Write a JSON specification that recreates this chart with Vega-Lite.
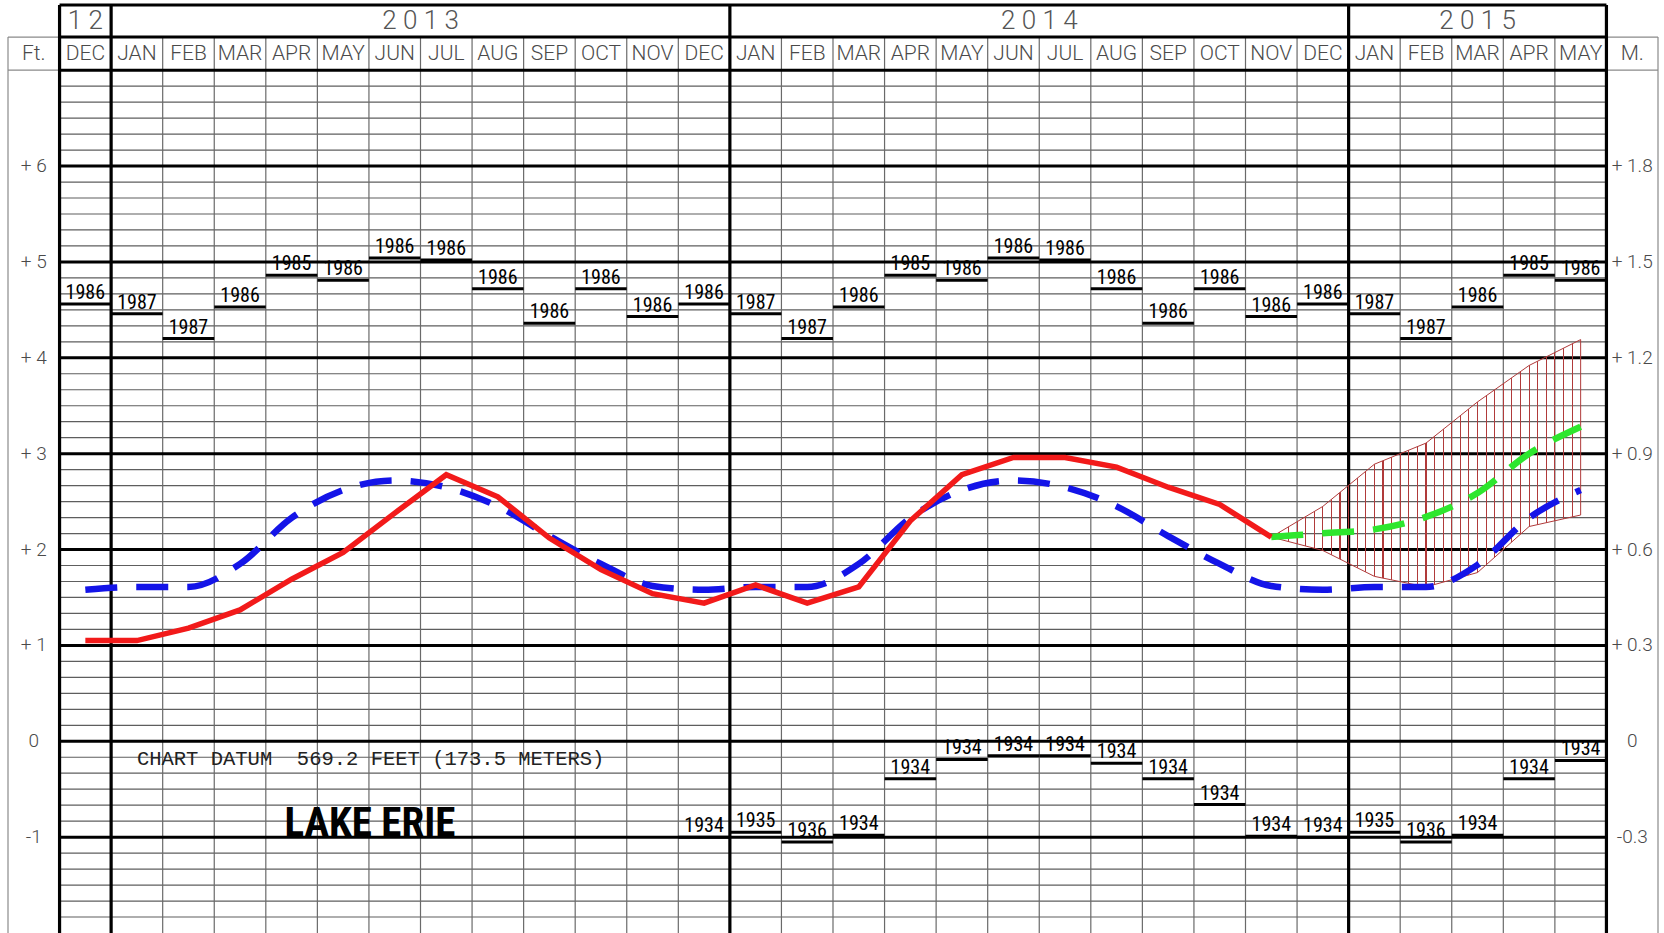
{
  "$schema": "https://vega.github.io/schema/vega-lite/v6.json",
  "width": 1650,
  "height": 928,
  "autosize": {"type": "none"},
  "padding": {"left": 8, "top": 5, "right": 6, "bottom": 0},
  "background": "white",
  "config": {"view": {"stroke": null}, "axis": {"disable": true}, "legend": {"disable": true}},
  "datasets": {
    "hminor": [{"v": -1.8333}, {"v": -1.6667}, {"v": -1.5}, {"v": -1.3333}, {"v": -1.1667},
      {"v": -0.8333}, {"v": -0.6667}, {"v": -0.5}, {"v": -0.3333}, {"v": -0.1667},
      {"v": 0.1667}, {"v": 0.3333}, {"v": 0.5}, {"v": 0.6667}, {"v": 0.8333},
      {"v": 1.1667}, {"v": 1.3333}, {"v": 1.5}, {"v": 1.6667}, {"v": 1.8333},
      {"v": 2.1667}, {"v": 2.3333}, {"v": 2.5}, {"v": 2.6667}, {"v": 2.8333},
      {"v": 3.1667}, {"v": 3.3333}, {"v": 3.5}, {"v": 3.6667}, {"v": 3.8333},
      {"v": 4.1667}, {"v": 4.3333}, {"v": 4.5}, {"v": 4.6667}, {"v": 4.8333},
      {"v": 5.1667}, {"v": 5.3333}, {"v": 5.5}, {"v": 5.6667}, {"v": 5.8333},
      {"v": 6.1667}, {"v": 6.3333}, {"v": 6.5}, {"v": 6.6667}, {"v": 6.8333}],
    "hmajor": [{"v": -1}, {"v": 0}, {"v": 1}, {"v": 2}, {"v": 3}, {"v": 4}, {"v": 5}, {"v": 6}, {"v": 7}, {"v": 7.345}, {"v": 7.68}],
    "vthin": [{"v": 1.5}, {"v": 2.5}, {"v": 3.5}, {"v": 4.5}, {"v": 5.5}, {"v": 6.5}, {"v": 7.5}, {"v": 8.5}, {"v": 9.5}, {"v": 10.5}, {"v": 11.5},
      {"v": 13.5}, {"v": 14.5}, {"v": 15.5}, {"v": 16.5}, {"v": 17.5}, {"v": 18.5}, {"v": 19.5}, {"v": 20.5}, {"v": 21.5}, {"v": 22.5}, {"v": 23.5},
      {"v": 25.5}, {"v": 26.5}, {"v": 27.5}, {"v": 28.5}],
    "vthick": [{"v": -0.5}, {"v": 0.5}, {"v": 12.5}, {"v": 24.5}, {"v": 29.5}],
    "vedge": [{"v": -1.5}, {"v": 30.5}],
    "hcell": [{"v": 7}, {"v": 7.345}],
    "months": [
      {"n": 0, "mon": "DEC", "yr": "1 2"},
      {"n": 1, "mon": "JAN", "yr": "2 0 1 3"}, {"n": 2, "mon": "FEB", "yr": "2 0 1 3"}, {"n": 3, "mon": "MAR", "yr": "2 0 1 3"},
      {"n": 4, "mon": "APR", "yr": "2 0 1 3"}, {"n": 5, "mon": "MAY", "yr": "2 0 1 3"}, {"n": 6, "mon": "JUN", "yr": "2 0 1 3"},
      {"n": 7, "mon": "JUL", "yr": "2 0 1 3"}, {"n": 8, "mon": "AUG", "yr": "2 0 1 3"}, {"n": 9, "mon": "SEP", "yr": "2 0 1 3"},
      {"n": 10, "mon": "OCT", "yr": "2 0 1 3"}, {"n": 11, "mon": "NOV", "yr": "2 0 1 3"}, {"n": 12, "mon": "DEC", "yr": "2 0 1 3"},
      {"n": 13, "mon": "JAN", "yr": "2 0 1 4"}, {"n": 14, "mon": "FEB", "yr": "2 0 1 4"}, {"n": 15, "mon": "MAR", "yr": "2 0 1 4"},
      {"n": 16, "mon": "APR", "yr": "2 0 1 4"}, {"n": 17, "mon": "MAY", "yr": "2 0 1 4"}, {"n": 18, "mon": "JUN", "yr": "2 0 1 4"},
      {"n": 19, "mon": "JUL", "yr": "2 0 1 4"}, {"n": 20, "mon": "AUG", "yr": "2 0 1 4"}, {"n": 21, "mon": "SEP", "yr": "2 0 1 4"},
      {"n": 22, "mon": "OCT", "yr": "2 0 1 4"}, {"n": 23, "mon": "NOV", "yr": "2 0 1 4"}, {"n": 24, "mon": "DEC", "yr": "2 0 1 4"},
      {"n": 25, "mon": "JAN", "yr": "2 0 1 5"}, {"n": 26, "mon": "FEB", "yr": "2 0 1 5"}, {"n": 27, "mon": "MAR", "yr": "2 0 1 5"},
      {"n": 28, "mon": "APR", "yr": "2 0 1 5"}, {"n": 29, "mon": "MAY", "yr": "2 0 1 5"}
    ],
    "units": [{"n": -1, "lab": "Ft."}, {"n": 30, "lab": "M."}],
    "scale": [
      {"ft": 6, "feet": "+ 6", "meters": "+ 1.8"}, {"ft": 5, "feet": "+ 5", "meters": "+ 1.5"},
      {"ft": 4, "feet": "+ 4", "meters": "+ 1.2"}, {"ft": 3, "feet": "+ 3", "meters": "+ 0.9"},
      {"ft": 2, "feet": "+ 2", "meters": "+ 0.6"}, {"ft": 1, "feet": "+ 1", "meters": "+ 0.3"},
      {"ft": 0, "feet": "0", "meters": "0"}, {"ft": -1, "feet": "-1", "meters": "-0.3"}
    ],
    "highs": [
      {"n": 0, "v": 4.56, "y": "1986"},
      {"n": 1, "v": 4.46, "y": "1987"}, {"n": 2, "v": 4.20, "y": "1987"}, {"n": 3, "v": 4.53, "y": "1986"},
      {"n": 4, "v": 4.86, "y": "1985"}, {"n": 5, "v": 4.81, "y": "1986"}, {"n": 6, "v": 5.04, "y": "1986"},
      {"n": 7, "v": 5.02, "y": "1986"}, {"n": 8, "v": 4.72, "y": "1986"}, {"n": 9, "v": 4.36, "y": "1986"},
      {"n": 10, "v": 4.72, "y": "1986"}, {"n": 11, "v": 4.43, "y": "1986"}, {"n": 12, "v": 4.56, "y": "1986"},
      {"n": 13, "v": 4.46, "y": "1987"}, {"n": 14, "v": 4.20, "y": "1987"}, {"n": 15, "v": 4.53, "y": "1986"},
      {"n": 16, "v": 4.86, "y": "1985"}, {"n": 17, "v": 4.81, "y": "1986"}, {"n": 18, "v": 5.04, "y": "1986"},
      {"n": 19, "v": 5.02, "y": "1986"}, {"n": 20, "v": 4.72, "y": "1986"}, {"n": 21, "v": 4.36, "y": "1986"},
      {"n": 22, "v": 4.72, "y": "1986"}, {"n": 23, "v": 4.43, "y": "1986"}, {"n": 24, "v": 4.56, "y": "1986"},
      {"n": 25, "v": 4.46, "y": "1987"}, {"n": 26, "v": 4.20, "y": "1987"}, {"n": 27, "v": 4.53, "y": "1986"},
      {"n": 28, "v": 4.86, "y": "1985"}, {"n": 29, "v": 4.81, "y": "1986"}
    ],
    "lows": [
      {"n": 12, "v": -1.00, "y": "1934"},
      {"n": 13, "v": -0.95, "y": "1935"}, {"n": 14, "v": -1.05, "y": "1936"}, {"n": 15, "v": -0.98, "y": "1934"},
      {"n": 16, "v": -0.39, "y": "1934"}, {"n": 17, "v": -0.19, "y": "1934"}, {"n": 18, "v": -0.15, "y": "1934"},
      {"n": 19, "v": -0.15, "y": "1934"}, {"n": 20, "v": -0.23, "y": "1934"}, {"n": 21, "v": -0.39, "y": "1934"},
      {"n": 22, "v": -0.66, "y": "1934"}, {"n": 23, "v": -0.99, "y": "1934"}, {"n": 24, "v": -1.00, "y": "1934"},
      {"n": 25, "v": -0.95, "y": "1935"}, {"n": 26, "v": -1.05, "y": "1936"}, {"n": 27, "v": -0.98, "y": "1934"},
      {"n": 28, "v": -0.39, "y": "1934"}, {"n": 29, "v": -0.20, "y": "1934"}
    ],
    "recorded": [
      {"n": 0, "v": 1.05}, {"n": 1, "v": 1.05}, {"n": 2, "v": 1.18}, {"n": 3, "v": 1.37}, {"n": 4, "v": 1.69},
      {"n": 5, "v": 1.97}, {"n": 6, "v": 2.38}, {"n": 7, "v": 2.78}, {"n": 8, "v": 2.55}, {"n": 9, "v": 2.12},
      {"n": 10, "v": 1.79}, {"n": 11, "v": 1.54}, {"n": 12, "v": 1.44}, {"n": 13, "v": 1.63}, {"n": 14, "v": 1.44},
      {"n": 15, "v": 1.61}, {"n": 16, "v": 2.30}, {"n": 17, "v": 2.78}, {"n": 18, "v": 2.96}, {"n": 19, "v": 2.96},
      {"n": 20, "v": 2.86}, {"n": 21, "v": 2.65}, {"n": 22, "v": 2.47}, {"n": 23, "v": 2.13}
    ],
    "average": [
      {"n": 0, "v": 1.58}, {"n": 1, "v": 1.61}, {"n": 2, "v": 1.61}, {"n": 3, "v": 1.85}, {"n": 4, "v": 2.33},
      {"n": 5, "v": 2.62}, {"n": 6, "v": 2.72}, {"n": 7, "v": 2.65}, {"n": 8, "v": 2.45}, {"n": 9, "v": 2.14},
      {"n": 10, "v": 1.85}, {"n": 11, "v": 1.62}, {"n": 12, "v": 1.58}, {"n": 13, "v": 1.61}, {"n": 14, "v": 1.61},
      {"n": 15, "v": 1.85}, {"n": 16, "v": 2.33}, {"n": 17, "v": 2.62}, {"n": 18, "v": 2.72}, {"n": 19, "v": 2.65},
      {"n": 20, "v": 2.45}, {"n": 21, "v": 2.14}, {"n": 22, "v": 1.85}, {"n": 23, "v": 1.62}, {"n": 24, "v": 1.58},
      {"n": 25, "v": 1.61}, {"n": 26, "v": 1.61}, {"n": 27, "v": 1.84}, {"n": 28, "v": 2.33}, {"n": 29, "v": 2.62}
    ],
    "forecast": [
      {"n": 23, "v": 2.13, "lo": 2.13, "hi": 2.13}, {"n": 24, "v": 2.17, "lo": 1.99, "hi": 2.45},
      {"n": 25, "v": 2.21, "lo": 1.72, "hi": 2.89}, {"n": 26, "v": 2.34, "lo": 1.61, "hi": 3.11},
      {"n": 27, "v": 2.59, "lo": 1.76, "hi": 3.54}, {"n": 28, "v": 3.00, "lo": 2.24, "hi": 3.92},
      {"n": 29, "v": 3.28, "lo": 2.36, "hi": 4.19}
    ],
    "notes": [{"label": "CHART DATUM \u00a0569.2 FEET (173.5 METERS)"}],
    "title": [{"label": "LAKE ERIE"}]
  },
  "layer": [
    {
      "data": {"name": "hminor"},
      "mark": {"type": "rule", "color": "#5e5e5e", "strokeWidth": 1.2},
      "encoding": {
        "y": {"field": "v", "type": "quantitative", "scale": {"domain": [-2, 7.68], "nice": false, "zero": false}},
        "x": {"datum": -0.5, "type": "quantitative", "scale": {"domain": [-1.5, 30.5], "nice": false, "zero": false}},
        "x2": {"datum": 29.5}
      }
    },
    {
      "data": {"name": "vthin"},
      "mark": {"type": "rule", "color": "#6a6a6a", "strokeWidth": 1.2},
      "encoding": {
        "x": {"field": "v", "type": "quantitative"},
        "y": {"datum": -2, "type": "quantitative"},
        "y2": {"datum": 7.345}
      }
    },
    {
      "data": {"name": "vedge"},
      "mark": {"type": "rule", "color": "#8a8a8a", "strokeWidth": 1.2},
      "encoding": {
        "x": {"field": "v", "type": "quantitative"},
        "y": {"datum": -2, "type": "quantitative"},
        "y2": {"datum": 7.345}
      }
    },
    {
      "data": {"name": "hcell"},
      "mark": {"type": "rule", "color": "#8a8a8a", "strokeWidth": 1.2},
      "encoding": {
        "y": {"field": "v", "type": "quantitative"},
        "x": {"datum": -1.5, "type": "quantitative"},
        "x2": {"datum": -0.5}
      }
    },
    {
      "data": {"name": "hcell"},
      "mark": {"type": "rule", "color": "#8a8a8a", "strokeWidth": 1.2},
      "encoding": {
        "y": {"field": "v", "type": "quantitative"},
        "x": {"datum": 29.5, "type": "quantitative"},
        "x2": {"datum": 30.5}
      }
    },
    {
      "data": {"name": "hmajor"},
      "mark": {"type": "rule", "color": "#000000", "strokeWidth": 3},
      "encoding": {
        "y": {"field": "v", "type": "quantitative"},
        "x": {"datum": -0.5, "type": "quantitative"},
        "x2": {"datum": 29.5}
      }
    },
    {
      "data": {"name": "vthick"},
      "mark": {"type": "rule", "color": "#000000", "strokeWidth": 3.2},
      "encoding": {
        "x": {"field": "v", "type": "quantitative"},
        "y": {"datum": -2, "type": "quantitative"},
        "y2": {"datum": 7.68}
      }
    },
    {
      "data": {"name": "forecast"},
      "mark": {
        "type": "area",
        "stroke": "#b03a3a",
        "strokeWidth": 1,
        "fill": {
          "gradient": "linear", "x1": 0, "y1": 0, "x2": 1, "y2": 0,
          "stops": [
            {"offset": 0, "color": "rgba(255,255,255,0)"},
            {"offset": 0.02598, "color": "rgba(255,255,255,0)"}, {"offset": 0.02598, "color": "#b03a3a"}, {"offset": 0.02958, "color": "#b03a3a"}, {"offset": 0.02958, "color": "rgba(255,255,255,0)"},
            {"offset": 0.05376, "color": "rgba(255,255,255,0)"}, {"offset": 0.05376, "color": "#b03a3a"}, {"offset": 0.05736, "color": "#b03a3a"}, {"offset": 0.05736, "color": "rgba(255,255,255,0)"},
            {"offset": 0.08153, "color": "rgba(255,255,255,0)"}, {"offset": 0.08153, "color": "#b03a3a"}, {"offset": 0.08513, "color": "#b03a3a"}, {"offset": 0.08513, "color": "rgba(255,255,255,0)"},
            {"offset": 0.10931, "color": "rgba(255,255,255,0)"}, {"offset": 0.10931, "color": "#b03a3a"}, {"offset": 0.11291, "color": "#b03a3a"}, {"offset": 0.11291, "color": "rgba(255,255,255,0)"},
            {"offset": 0.13709, "color": "rgba(255,255,255,0)"}, {"offset": 0.13709, "color": "#b03a3a"}, {"offset": 0.14069, "color": "#b03a3a"}, {"offset": 0.14069, "color": "rgba(255,255,255,0)"},
            {"offset": 0.16487, "color": "rgba(255,255,255,0)"}, {"offset": 0.16487, "color": "#b03a3a"}, {"offset": 0.16847, "color": "#b03a3a"}, {"offset": 0.16847, "color": "rgba(255,255,255,0)"},
            {"offset": 0.19264, "color": "rgba(255,255,255,0)"}, {"offset": 0.19264, "color": "#b03a3a"}, {"offset": 0.19624, "color": "#b03a3a"}, {"offset": 0.19624, "color": "rgba(255,255,255,0)"},
            {"offset": 0.22042, "color": "rgba(255,255,255,0)"}, {"offset": 0.22042, "color": "#b03a3a"}, {"offset": 0.22402, "color": "#b03a3a"}, {"offset": 0.22402, "color": "rgba(255,255,255,0)"},
            {"offset": 0.2482, "color": "rgba(255,255,255,0)"}, {"offset": 0.2482, "color": "#b03a3a"}, {"offset": 0.2518, "color": "#b03a3a"}, {"offset": 0.2518, "color": "rgba(255,255,255,0)"},
            {"offset": 0.27598, "color": "rgba(255,255,255,0)"}, {"offset": 0.27598, "color": "#b03a3a"}, {"offset": 0.27958, "color": "#b03a3a"}, {"offset": 0.27958, "color": "rgba(255,255,255,0)"},
            {"offset": 0.30376, "color": "rgba(255,255,255,0)"}, {"offset": 0.30376, "color": "#b03a3a"}, {"offset": 0.30736, "color": "#b03a3a"}, {"offset": 0.30736, "color": "rgba(255,255,255,0)"},
            {"offset": 0.33153, "color": "rgba(255,255,255,0)"}, {"offset": 0.33153, "color": "#b03a3a"}, {"offset": 0.33513, "color": "#b03a3a"}, {"offset": 0.33513, "color": "rgba(255,255,255,0)"},
            {"offset": 0.35931, "color": "rgba(255,255,255,0)"}, {"offset": 0.35931, "color": "#b03a3a"}, {"offset": 0.36291, "color": "#b03a3a"}, {"offset": 0.36291, "color": "rgba(255,255,255,0)"},
            {"offset": 0.38709, "color": "rgba(255,255,255,0)"}, {"offset": 0.38709, "color": "#b03a3a"}, {"offset": 0.39069, "color": "#b03a3a"}, {"offset": 0.39069, "color": "rgba(255,255,255,0)"},
            {"offset": 0.41487, "color": "rgba(255,255,255,0)"}, {"offset": 0.41487, "color": "#b03a3a"}, {"offset": 0.41847, "color": "#b03a3a"}, {"offset": 0.41847, "color": "rgba(255,255,255,0)"},
            {"offset": 0.44264, "color": "rgba(255,255,255,0)"}, {"offset": 0.44264, "color": "#b03a3a"}, {"offset": 0.44624, "color": "#b03a3a"}, {"offset": 0.44624, "color": "rgba(255,255,255,0)"},
            {"offset": 0.47042, "color": "rgba(255,255,255,0)"}, {"offset": 0.47042, "color": "#b03a3a"}, {"offset": 0.47402, "color": "#b03a3a"}, {"offset": 0.47402, "color": "rgba(255,255,255,0)"},
            {"offset": 0.4982, "color": "rgba(255,255,255,0)"}, {"offset": 0.4982, "color": "#b03a3a"}, {"offset": 0.5018, "color": "#b03a3a"}, {"offset": 0.5018, "color": "rgba(255,255,255,0)"},
            {"offset": 0.52598, "color": "rgba(255,255,255,0)"}, {"offset": 0.52598, "color": "#b03a3a"}, {"offset": 0.52958, "color": "#b03a3a"}, {"offset": 0.52958, "color": "rgba(255,255,255,0)"},
            {"offset": 0.55376, "color": "rgba(255,255,255,0)"}, {"offset": 0.55376, "color": "#b03a3a"}, {"offset": 0.55736, "color": "#b03a3a"}, {"offset": 0.55736, "color": "rgba(255,255,255,0)"},
            {"offset": 0.58153, "color": "rgba(255,255,255,0)"}, {"offset": 0.58153, "color": "#b03a3a"}, {"offset": 0.58513, "color": "#b03a3a"}, {"offset": 0.58513, "color": "rgba(255,255,255,0)"},
            {"offset": 0.60931, "color": "rgba(255,255,255,0)"}, {"offset": 0.60931, "color": "#b03a3a"}, {"offset": 0.61291, "color": "#b03a3a"}, {"offset": 0.61291, "color": "rgba(255,255,255,0)"},
            {"offset": 0.63709, "color": "rgba(255,255,255,0)"}, {"offset": 0.63709, "color": "#b03a3a"}, {"offset": 0.64069, "color": "#b03a3a"}, {"offset": 0.64069, "color": "rgba(255,255,255,0)"},
            {"offset": 0.66487, "color": "rgba(255,255,255,0)"}, {"offset": 0.66487, "color": "#b03a3a"}, {"offset": 0.66847, "color": "#b03a3a"}, {"offset": 0.66847, "color": "rgba(255,255,255,0)"},
            {"offset": 0.69264, "color": "rgba(255,255,255,0)"}, {"offset": 0.69264, "color": "#b03a3a"}, {"offset": 0.69624, "color": "#b03a3a"}, {"offset": 0.69624, "color": "rgba(255,255,255,0)"},
            {"offset": 0.72042, "color": "rgba(255,255,255,0)"}, {"offset": 0.72042, "color": "#b03a3a"}, {"offset": 0.72402, "color": "#b03a3a"}, {"offset": 0.72402, "color": "rgba(255,255,255,0)"},
            {"offset": 0.7482, "color": "rgba(255,255,255,0)"}, {"offset": 0.7482, "color": "#b03a3a"}, {"offset": 0.7518, "color": "#b03a3a"}, {"offset": 0.7518, "color": "rgba(255,255,255,0)"},
            {"offset": 0.77598, "color": "rgba(255,255,255,0)"}, {"offset": 0.77598, "color": "#b03a3a"}, {"offset": 0.77958, "color": "#b03a3a"}, {"offset": 0.77958, "color": "rgba(255,255,255,0)"},
            {"offset": 0.80376, "color": "rgba(255,255,255,0)"}, {"offset": 0.80376, "color": "#b03a3a"}, {"offset": 0.80736, "color": "#b03a3a"}, {"offset": 0.80736, "color": "rgba(255,255,255,0)"},
            {"offset": 0.83153, "color": "rgba(255,255,255,0)"}, {"offset": 0.83153, "color": "#b03a3a"}, {"offset": 0.83513, "color": "#b03a3a"}, {"offset": 0.83513, "color": "rgba(255,255,255,0)"},
            {"offset": 0.85931, "color": "rgba(255,255,255,0)"}, {"offset": 0.85931, "color": "#b03a3a"}, {"offset": 0.86291, "color": "#b03a3a"}, {"offset": 0.86291, "color": "rgba(255,255,255,0)"},
            {"offset": 0.88709, "color": "rgba(255,255,255,0)"}, {"offset": 0.88709, "color": "#b03a3a"}, {"offset": 0.89069, "color": "#b03a3a"}, {"offset": 0.89069, "color": "rgba(255,255,255,0)"},
            {"offset": 0.91487, "color": "rgba(255,255,255,0)"}, {"offset": 0.91487, "color": "#b03a3a"}, {"offset": 0.91847, "color": "#b03a3a"}, {"offset": 0.91847, "color": "rgba(255,255,255,0)"},
            {"offset": 0.94264, "color": "rgba(255,255,255,0)"}, {"offset": 0.94264, "color": "#b03a3a"}, {"offset": 0.94624, "color": "#b03a3a"}, {"offset": 0.94624, "color": "rgba(255,255,255,0)"},
            {"offset": 0.97042, "color": "rgba(255,255,255,0)"}, {"offset": 0.97042, "color": "#b03a3a"}, {"offset": 0.97402, "color": "#b03a3a"}, {"offset": 0.97402, "color": "rgba(255,255,255,0)"},
            {"offset": 1, "color": "rgba(255,255,255,0)"}
          ]
        }
      },
      "encoding": {
        "x": {"field": "n", "type": "quantitative"},
        "y": {"field": "lo", "type": "quantitative"},
        "y2": {"field": "hi"}
      }
    },
    {
      "data": {"name": "average"},
      "mark": {"type": "line", "color": "#1414e8", "strokeWidth": 6.5, "strokeDash": [32, 19], "interpolate": "monotone"},
      "encoding": {
        "x": {"field": "n", "type": "quantitative"},
        "y": {"field": "v", "type": "quantitative"}
      }
    },
    {
      "data": {"name": "forecast"},
      "mark": {"type": "line", "color": "#2ee62e", "strokeWidth": 6.5, "strokeDash": [32, 19], "interpolate": "monotone"},
      "encoding": {
        "x": {"field": "n", "type": "quantitative"},
        "y": {"field": "v", "type": "quantitative"}
      }
    },
    {
      "data": {"name": "recorded"},
      "mark": {"type": "line", "color": "#f21a1a", "strokeWidth": 5.5},
      "encoding": {
        "x": {"field": "n", "type": "quantitative"},
        "y": {"field": "v", "type": "quantitative"}
      }
    },
    {
      "data": {"name": "highs"},
      "mark": {"type": "tick", "orient": "horizontal", "size": 51.5, "thickness": 3, "color": "#000000", "opacity": 1},
      "encoding": {
        "x": {"field": "n", "type": "quantitative"},
        "y": {"field": "v", "type": "quantitative"}
      }
    },
    {
      "data": {"name": "highs"},
      "mark": {"type": "text", "font": "Roboto Condensed, Liberation Sans Narrow, DejaVu Sans Condensed, Roboto, sans-serif", "fontSize": 20, "color": "#000000", "align": "center", "baseline": "alphabetic", "dy": -5},
      "encoding": {
        "x": {"field": "n", "type": "quantitative"},
        "y": {"field": "v", "type": "quantitative"},
        "text": {"field": "y"}
      }
    },
    {
      "data": {"name": "lows"},
      "mark": {"type": "tick", "orient": "horizontal", "size": 51.5, "thickness": 3, "color": "#000000", "opacity": 1},
      "encoding": {
        "x": {"field": "n", "type": "quantitative"},
        "y": {"field": "v", "type": "quantitative"}
      }
    },
    {
      "data": {"name": "lows"},
      "mark": {"type": "text", "font": "Roboto Condensed, Liberation Sans Narrow, DejaVu Sans Condensed, Roboto, sans-serif", "fontSize": 20, "color": "#000000", "align": "center", "baseline": "alphabetic", "dy": -5},
      "encoding": {
        "x": {"field": "n", "type": "quantitative"},
        "y": {"field": "v", "type": "quantitative"},
        "text": {"field": "y"}
      }
    },
    {
      "data": {"name": "months"},
      "mark": {"type": "text", "font": "Roboto", "fontWeight": 300, "fontSize": 21, "color": "#4a4a4a", "align": "center", "baseline": "middle"},
      "encoding": {
        "x": {"field": "n", "type": "quantitative"},
        "y": {"datum": 7.172, "type": "quantitative"},
        "text": {"field": "mon"}
      }
    },
    {
      "data": {"name": "months"},
      "transform": [{"aggregate": [{"op": "mean", "field": "n", "as": "xc"}], "groupby": ["yr"]}],
      "mark": {"type": "text", "font": "Roboto", "fontWeight": 300, "fontSize": 26, "color": "#555555", "align": "center", "baseline": "middle"},
      "encoding": {
        "x": {"field": "xc", "type": "quantitative"},
        "y": {"datum": 7.513, "type": "quantitative"},
        "text": {"field": "yr"}
      }
    },
    {
      "data": {"name": "units"},
      "mark": {"type": "text", "font": "Roboto", "fontWeight": 300, "fontSize": 21, "color": "#4a4a4a", "align": "center", "baseline": "middle"},
      "encoding": {
        "x": {"field": "n", "type": "quantitative"},
        "y": {"datum": 7.172, "type": "quantitative"},
        "text": {"field": "lab"}
      }
    },
    {
      "data": {"name": "scale"},
      "mark": {"type": "text", "font": "Roboto", "fontWeight": 300, "fontSize": 19, "color": "#4a4a4a", "align": "center", "baseline": "middle"},
      "encoding": {
        "x": {"datum": -1, "type": "quantitative"},
        "y": {"field": "ft", "type": "quantitative"},
        "text": {"field": "feet"}
      }
    },
    {
      "data": {"name": "scale"},
      "mark": {"type": "text", "font": "Roboto", "fontWeight": 300, "fontSize": 19, "color": "#4a4a4a", "align": "center", "baseline": "middle"},
      "encoding": {
        "x": {"datum": 30, "type": "quantitative"},
        "y": {"field": "ft", "type": "quantitative"},
        "text": {"field": "meters"}
      }
    },
    {
      "data": {"name": "notes"},
      "mark": {"type": "text", "font": "Liberation Mono", "fontSize": 20.5, "color": "#222222", "align": "left", "baseline": "middle"},
      "encoding": {
        "x": {"datum": 1.0, "type": "quantitative"},
        "y": {"datum": -0.18, "type": "quantitative"},
        "text": {"field": "label"}
      }
    },
    {
      "data": {"name": "title"},
      "mark": {"type": "text", "font": "Roboto Condensed, Liberation Sans Narrow, DejaVu Sans Condensed, Roboto, sans-serif", "fontWeight": "bold", "fontSize": 41, "color": "#000000", "align": "center", "baseline": "alphabetic"},
      "encoding": {
        "x": {"datum": 5.52, "type": "quantitative"},
        "y": {"datum": -0.99, "type": "quantitative"},
        "text": {"field": "label"}
      }
    }
  ]
}
